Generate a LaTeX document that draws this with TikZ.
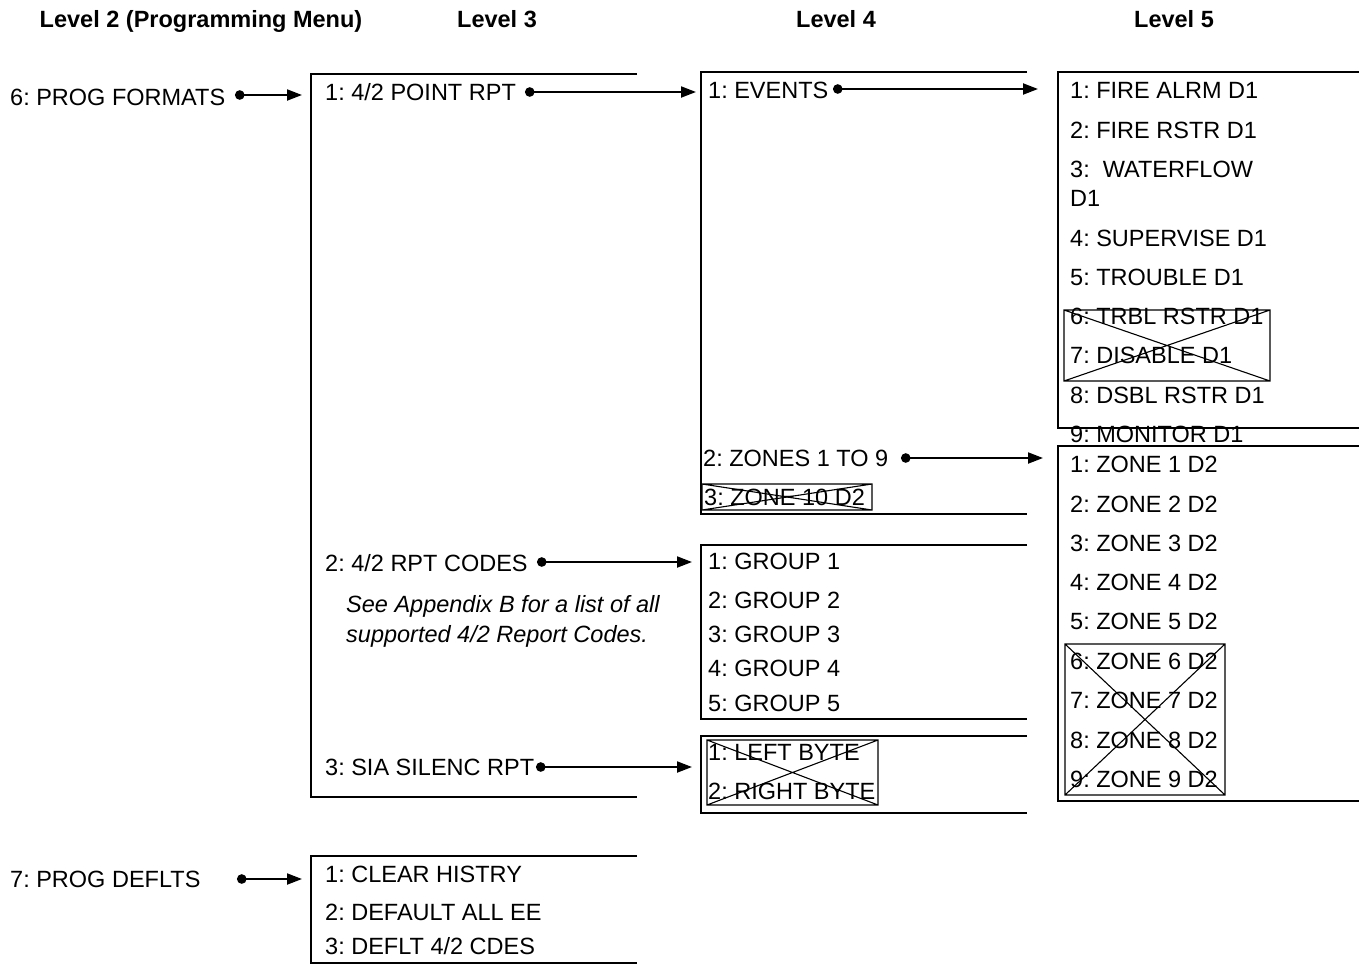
\documentclass[tikz,border=0pt]{standalone}
\usepackage{fontspec}
\setmainfont{Liberation Sans}
\usetikzlibrary{arrows.meta}
\frenchspacing
\begin{document}
\begin{tikzpicture}[x=1pt,y=-1pt,
  every node/.style={inner sep=0pt,anchor=base west,font=\fontsize{23.5}{28}\selectfont},
  hdr/.style={anchor=base,font=\fontsize{23.5}{28}\selectfont\bfseries},
  bracket/.style={line width=2.8pt},
  xbox/.style={line width=1.1pt},
  conn/.style={line width=2pt,{Circle[length=9.5pt,width=9.5pt]}-{Triangle[length=15pt,width=11pt]}}]
\useasboundingbox (0,0) rectangle (1359,964);
% headers
\node[hdr] (h2) at (201,27) {Level 2 (Programming Menu)};
\node[hdr] (h3) at (497,27) {Level 3};
\node[hdr] (h4) at (836,27) {Level 4};
\node[hdr] (h5) at (1174,27) {Level 5};
% level 2
\node (pf) at (10,105.5) {6: PROG FORMATS};
\node (pd) at (10,887.5) {7: PROG DEFLTS};
% brackets
\draw[bracket] (637,74) -| (311,797) -- (637,797);
\draw[bracket] (637,856) -| (311,963) -- (637,963);
\draw[bracket] (1027,72) -| (701,514) -- (1027,514);
\draw[bracket] (1027,545) -| (701,719) -- (1027,719);
\draw[bracket] (1027,736) -| (701,813) -- (1027,813);
% level 3 texts
\node (p1) at (325,100.5) {1: 4/2 POINT RPT};
\node (p2) at (325,571.5) {2: 4/2 RPT CODES};
\node (p3) at (325,775.5) {3: SIA SILENC RPT};
\node[font=\fontsize{23.5}{28}\selectfont\itshape] (n1) at (346,612.5) {See Appendix B for a list of all};
\node[font=\fontsize{23.5}{28}\selectfont\itshape] (n2) at (346,642.5) {supported 4/2 Report Codes.};
\node (d1) at (325,882.5) {1: CLEAR HISTRY};
\node (d2) at (325,920.5) {2: DEFAULT ALL EE};
\node (d3) at (325,954.5) {3: DEFLT 4/2 CDES};
% level 4 texts
\node (e1) at (708,98.5) {1: EVENTS};
\node (e2) at (703,466.5) {2: ZONES 1 TO 9};
\node (e3) at (704,505.5) {3: ZONE 10 D2};
\draw[xbox] (702,484) rectangle (872,510) (702,484) -- (872,510) (702,510) -- (872,484);
\node (g1) at (708,569.5) {1: GROUP 1};
\node (g2) at (708,608.5) {2: GROUP 2};
\node (g3) at (708,642.5) {3: GROUP 3};
\node (g4) at (708,676.5) {4: GROUP 4};
\node (g5) at (708,711.5) {5: GROUP 5};
\node (b1) at (708,760.5) {1: LEFT BYTE};
\node (b2) at (708,799.5) {2: RIGHT BYTE};
\draw[xbox] (707,740) rectangle (878,805) (707,740) -- (878,805) (707,805) -- (878,740);
% level 5 texts
\node (f1) at (1070,98.5) {1: FIRE ALRM D1};
\node (f2) at (1070,138.5) {2: FIRE RSTR D1};
\node (f3) at (1070,177.5) {3:\ \ WATERFLOW};
\node (f3b) at (1070,206.5) {D1};
\node (f4) at (1070,246.5) {4: SUPERVISE D1};
\node (f5) at (1070,285.5) {5: TROUBLE D1};
\node (f6) at (1070,324.5) {6: TRBL RSTR D1};
\node (f7) at (1070,363.5) {7: DISABLE D1};
\node (f8) at (1070,403.5) {8: DSBL RSTR D1};
\node (f9) at (1070,442.5) {9: MONITOR D1};
\draw[xbox] (1064,310) rectangle (1270,381) (1064,310) -- (1270,381) (1064,381) -- (1270,310);
\node (z1) at (1070,472.5) {1: ZONE 1 D2};
\node (z2) at (1070,512.5) {2: ZONE 2 D2};
\node (z3) at (1070,551.5) {3: ZONE 3 D2};
\node (z4) at (1070,590.5) {4: ZONE 4 D2};
\node (z5) at (1070,629.5) {5: ZONE 5 D2};
\node (z6) at (1070,669.5) {6: ZONE 6 D2};
\node (z7) at (1070,708.5) {7: ZONE 7 D2};
\node (z8) at (1070,748.5) {8: ZONE 8 D2};
\node (z9) at (1070,787.5) {9: ZONE 9 D2};
\draw[xbox] (1065,644) rectangle (1225,795) (1065,644) -- (1225,795) (1065,795) -- (1225,644);
\draw[bracket] (1359,72) -| (1058,428) -- (1359,428);
\draw[bracket] (1359,446) -| (1058,801) -- (1359,801);
% connectors
\coordinate (s1) at (235,95); \coordinate (t1) at (302,95);
\coordinate (s2) at (525,92); \coordinate (t2) at (696,92);
\coordinate (s3) at (833,89); \coordinate (t3) at (1038,89);
\coordinate (s4) at (901,458); \coordinate (t4) at (1043,458);
\coordinate (s5) at (537,562); \coordinate (t5) at (692,562);
\coordinate (s6) at (536,767); \coordinate (t6) at (692,767);
\coordinate (s7) at (237,879); \coordinate (t7) at (302,879);
\foreach \i in {1,...,7} {\draw[conn] (s\i) -- (t\i);}
\end{tikzpicture}
\end{document}
